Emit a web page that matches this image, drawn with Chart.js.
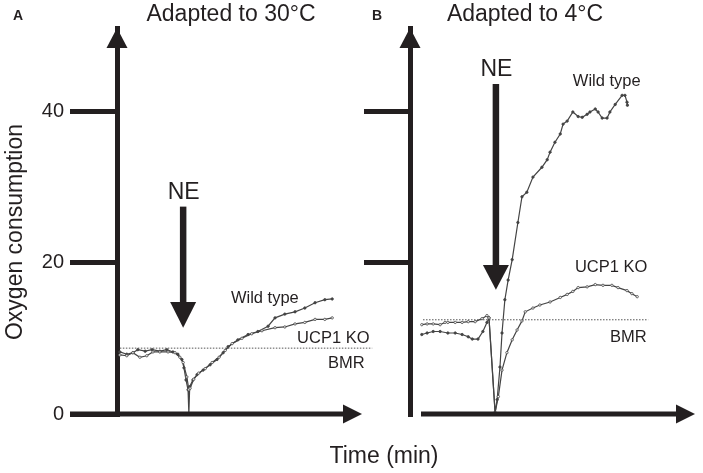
<!DOCTYPE html>
<html>
<head>
<meta charset="utf-8">
<script src="https://cdn.jsdelivr.net/npm/chart.js@4.4.0/dist/chart.umd.min.js"></script>
<style>
  html, body { margin: 0; padding: 0; background: #fff; }
  #wrap { position: relative; width: 703px; height: 473px; }
  #wrap canvas { position: absolute; left: 0; top: 0; }
</style>
</head>
<body>
<div id="wrap">
  <canvas id="panelA" width="703" height="473"></canvas>
  <canvas id="panelB" width="703" height="473"></canvas>
</div>
<script>
// values: time (min) and oxygen consumption
const yTicksA = [0, 20, 40];
const yTicksB = [20, 40];

// A: adapted to 30°C
const timeA_wt = [0.7, 2.4, 3.9, 5.1, 6.9, 8.6, 10.5, 12.2, 13.7, 14.9, 15.9, 16.4, 16.9, 17.4, 17.6, 17.8, 18.6, 19.6, 21.1, 22.8, 24.5, 26.0, 27.2, 29.6, 32.1, 34.5, 37.0, 38.7, 41.1, 43.6, 46.0, 48.5, 50.9, 52.7];
const o2A_wt   = [8.2, 7.9, 8.1, 8.5, 8.3, 8.5, 8.3, 8.5, 8.2, 7.9, 7.2, 6.1, 4.5, 3.2, 0, 3.6, 4.5, 5.2, 5.8, 6.5, 7.2, 8.1, 8.9, 9.8, 10.5, 10.9, 11.6, 12.7, 13.2, 13.5, 14.0, 14.7, 15.1, 15.2];
const timeA_ko = [0.7, 2.4, 3.9, 5.6, 7.3, 8.8, 10.5, 12.5, 14.2, 15.4, 16.2, 17.1, 17.6, 17.9, 18.8, 20.0, 21.6, 23.3, 25.0, 26.5, 28.2, 30.6, 33.0, 35.5, 38.7, 41.1, 43.6, 46.0, 48.5, 50.9, 52.7];
const o2A_ko   = [7.8, 7.7, 8.1, 7.5, 7.7, 8.2, 8.2, 8.2, 8.1, 7.5, 6.8, 4.9, 3.2, 3.4, 4.6, 5.4, 6.0, 6.8, 7.5, 8.4, 9.3, 10.0, 10.6, 11.0, 11.4, 11.5, 11.9, 12.1, 12.5, 12.5, 12.7];
const bmrTimeA = [0.7, 62.5];
const bmrA = 8.7;

// B: adapted to 4°C
const timeB_wt = [2.9, 4.2, 5.7, 7.4, 9.3, 11.1, 12.8, 14.3, 15.3, 16.7, 17.9, 18.9, 19.4, 20.9, 21.4, 22.1, 22.6, 23.3, 24.1, 25.1, 26.5, 27.5, 28.7, 30.2, 32.4, 33.7, 34.4, 35.6, 36.9, 37.6, 38.6, 40.0, 41.3, 42.3, 43.5, 44.2, 45.5, 46.2, 47.2, 48.4, 49.1, 50.4, 52.1, 52.8, 53.3, 53.4];
const o2B_wt   = [10.5, 10.7, 10.9, 10.9, 10.7, 10.7, 10.5, 10.2, 9.9, 9.9, 10.9, 12.1, 12.7, 0.2, 1.9, 6.2, 10.7, 15.1, 17.7, 20.4, 25.3, 28.7, 29.3, 31.3, 32.6, 33.6, 34.6, 35.9, 37.0, 38.3, 38.7, 39.9, 39.3, 39.2, 39.6, 39.9, 40.3, 39.9, 39.1, 39.1, 39.9, 40.9, 42.1, 42.1, 41.2, 40.8];
const timeB_ko = [2.9, 4.2, 5.7, 7.4, 8.6, 9.3, 11.1, 12.8, 14.3, 16.0, 17.7, 18.9, 19.4, 20.9, 21.7, 22.6, 23.8, 25.1, 26.3, 27.5, 28.3, 30.2, 31.9, 34.4, 36.9, 38.6, 40.0, 41.3, 43.5, 45.5, 47.4, 49.6, 51.1, 53.3, 54.5, 55.8];
const o2B_ko   = [11.8, 11.9, 11.9, 11.8, 12.1, 12.1, 12.1, 12.1, 12.2, 12.2, 12.6, 13.0, 12.7, 0.2, 2.3, 5.8, 8.1, 9.8, 11.1, 12.3, 13.5, 14.0, 14.4, 14.8, 15.4, 15.8, 16.2, 16.7, 16.8, 17.1, 17.0, 17.0, 16.7, 16.3, 15.9, 15.5];
const bmrTimeB = [3.2, 58.5];
const bmrB = 12.45;

// NE injection arrows (time, shaft top, head base, tip)
const neA = [16.2, 27.4, 14.8, 11.4];
const neB = [21.1, 43.6, 19.7, 16.4];

const ink = '#231f20';
const trace = '#444444';
const fontFamily = '"Liberation Sans", Arial, Helvetica, sans-serif';

function pts(xs, ys) {
    return xs.map((x, i) => ({ x: x, y: ys[i] }));
}

function traceSet(label, xs, ys, filled) {
    return {
        label: label,
        data: pts(xs, ys),
        borderColor: trace,
        borderWidth: 1.2,
        pointRadius: 1.2,
        pointBorderWidth: 0.8,
        pointBorderColor: trace,
        pointBackgroundColor: filled ? trace : '#ffffff',
        tension: 0
    };
}

function bmrSet(xs, level) {
    return {
        label: 'BMR',
        data: xs.map(x => ({ x: x, y: level })),
        borderColor: '#555555',
        borderWidth: 1,
        borderDash: [1.5, 1.5],
        pointRadius: 0,
        clip: false
    };
}

function tri(ctx, p1, p2, p3) {
    ctx.beginPath();
    ctx.moveTo(p1[0], p1[1]);
    ctx.lineTo(p2[0], p2[1]);
    ctx.lineTo(p3[0], p3[1]);
    ctx.closePath();
    ctx.fill();
}

function text(ctx, str, x, y, size, align, bold) {
    ctx.font = (bold ? 'bold ' : '') + size + 'px ' + fontFamily;
    ctx.textAlign = align;
    ctx.textBaseline = 'alphabetic';
    ctx.fillText(str, x, y);
}

// axis arrows, NE arrow and labels for one panel
function panelPlugin(cfg) {
    return {
        id: 'panel' + cfg.letter,
        afterDraw(chart) {
            const ctx = chart.ctx;
            const a = chart.chartArea;
            const xs = chart.scales.x;
            const ys = chart.scales.y;
            ctx.save();
            ctx.strokeStyle = ink;
            ctx.fillStyle = ink;
            ctx.lineWidth = 5;

            // x axis with arrow
            ctx.beginPath();
            ctx.moveTo(a.left + cfg.xStart, a.bottom);
            ctx.lineTo(a.right - 15, a.bottom);
            ctx.stroke();
            tri(ctx, [a.right, a.bottom], [a.right - 19, a.bottom - 9.5], [a.right - 19, a.bottom + 9.5]);
            // y axis arrow head
            tri(ctx, [a.left, a.top], [a.left - 10.5, a.top + 20], [a.left + 10.5, a.top + 20]);

            // NE arrow
            const nx = xs.getPixelForValue(cfg.ne[0]);
            const top = ys.getPixelForValue(cfg.ne[1]);
            const base = ys.getPixelForValue(cfg.ne[2]);
            const tip = ys.getPixelForValue(cfg.ne[3]);
            ctx.lineWidth = 6.5;
            ctx.beginPath();
            ctx.moveTo(nx, top);
            ctx.lineTo(nx, base + 1);
            ctx.stroke();
            tri(ctx, [nx, tip], [nx - 13, base], [nx + 13, base]);
            text(ctx, 'NE', nx + 0.5, top - 8, 23, 'center');

            // panel letter and title
            text(ctx, cfg.letter, cfg.letterX, 20, 14, 'center', true);
            text(ctx, cfg.title, cfg.titleX, 21, 23, 'center');

            // curve labels, placed in data units
            cfg.labels.forEach(l => {
                text(ctx, l[0], xs.getPixelForValue(l[1]), ys.getPixelForValue(l[2]), 16.5, l[3]);
            });

            if (cfg.axisTitles) {
                text(ctx, 'Time (min)', 384, 463, 23, 'center');
                ctx.translate(22, 232);
                ctx.rotate(-Math.PI / 2);
                text(ctx, 'Oxygen consumption', 0, 0, 23, 'center');
            }
            ctx.restore();
        }
    };
}

function makeChart(id, opts) {
    return new Chart(document.getElementById(id), {
        type: 'line',
        data: { datasets: opts.datasets },
        options: {
            responsive: false,
            animation: false,
            layout: { padding: opts.padding },
            plugins: { legend: { display: false }, tooltip: { enabled: false } },
            scales: {
                x: {
                    type: 'linear',
                    min: 0,
                    max: opts.xMax,
                    ticks: { display: false },
                    grid: { display: false },
                    border: { display: false },
                    afterFit: s => { s.height = 59; }
                },
                y: {
                    min: 0,
                    max: 51,
                    afterBuildTicks: s => { s.ticks = opts.yTicks.map(v => ({ value: v })); },
                    grid: { drawOnChartArea: false, drawTicks: true, tickLength: opts.tickLength, lineWidth: 5, color: ink },
                    border: { display: true, width: 5, color: ink },
                    ticks: {
                        display: opts.showLabels,
                        color: ink,
                        padding: 6,
                        font: { size: 20, family: fontFamily }
                    },
                    afterFit: s => { s.width = opts.yWidth; }
                }
            }
        },
        plugins: [opts.plugin]
    });
}

const chartA = makeChart('panelA', {
    datasets: [
        bmrSet(bmrTimeA, bmrA),
        traceSet('UCP1 KO', timeA_ko, o2A_ko, false),
        traceSet('Wild type', timeA_wt, o2A_wt, true)
    ],
    padding: { left: 0, right: 341, top: 28, bottom: 0 },
    xMax: 60,
    yTicks: yTicksA,
    tickLength: 47,
    showLabels: true,
    yWidth: 117,
    plugin: panelPlugin({
        letter: 'A', letterX: 18, title: 'Adapted to 30°C', titleX: 231,
        xStart: -47, ne: neA, axisTitles: true,
        labels: [['Wild type', 36.2, 14.7, 'center'], ['UCP1 KO', 44.1, 9.4, 'left'], ['BMR', 51.7, 6.1, 'left']]
    })
});

const chartB = makeChart('panelB', {
    datasets: [
        bmrSet(bmrTimeB, bmrB),
        traceSet('UCP1 KO', timeB_ko, o2B_ko, false),
        traceSet('Wild type', timeB_wt, o2B_wt, true)
    ],
    padding: { left: 350, right: 8, top: 28, bottom: 0 },
    xMax: 70,
    yTicks: yTicksB,
    tickLength: 46,
    showLabels: false,
    yWidth: 60,
    plugin: panelPlugin({
        letter: 'B', letterX: 377, title: 'Adapted to 4°C', titleX: 525,
        xStart: 11, ne: neB, axisTitles: false,
        labels: [['Wild type', 40.0, 43.4, 'left'], ['UCP1 KO', 40.5, 18.7, 'left'], ['BMR', 49.1, 9.5, 'left']]
    })
});
</script>
</body>
</html>
